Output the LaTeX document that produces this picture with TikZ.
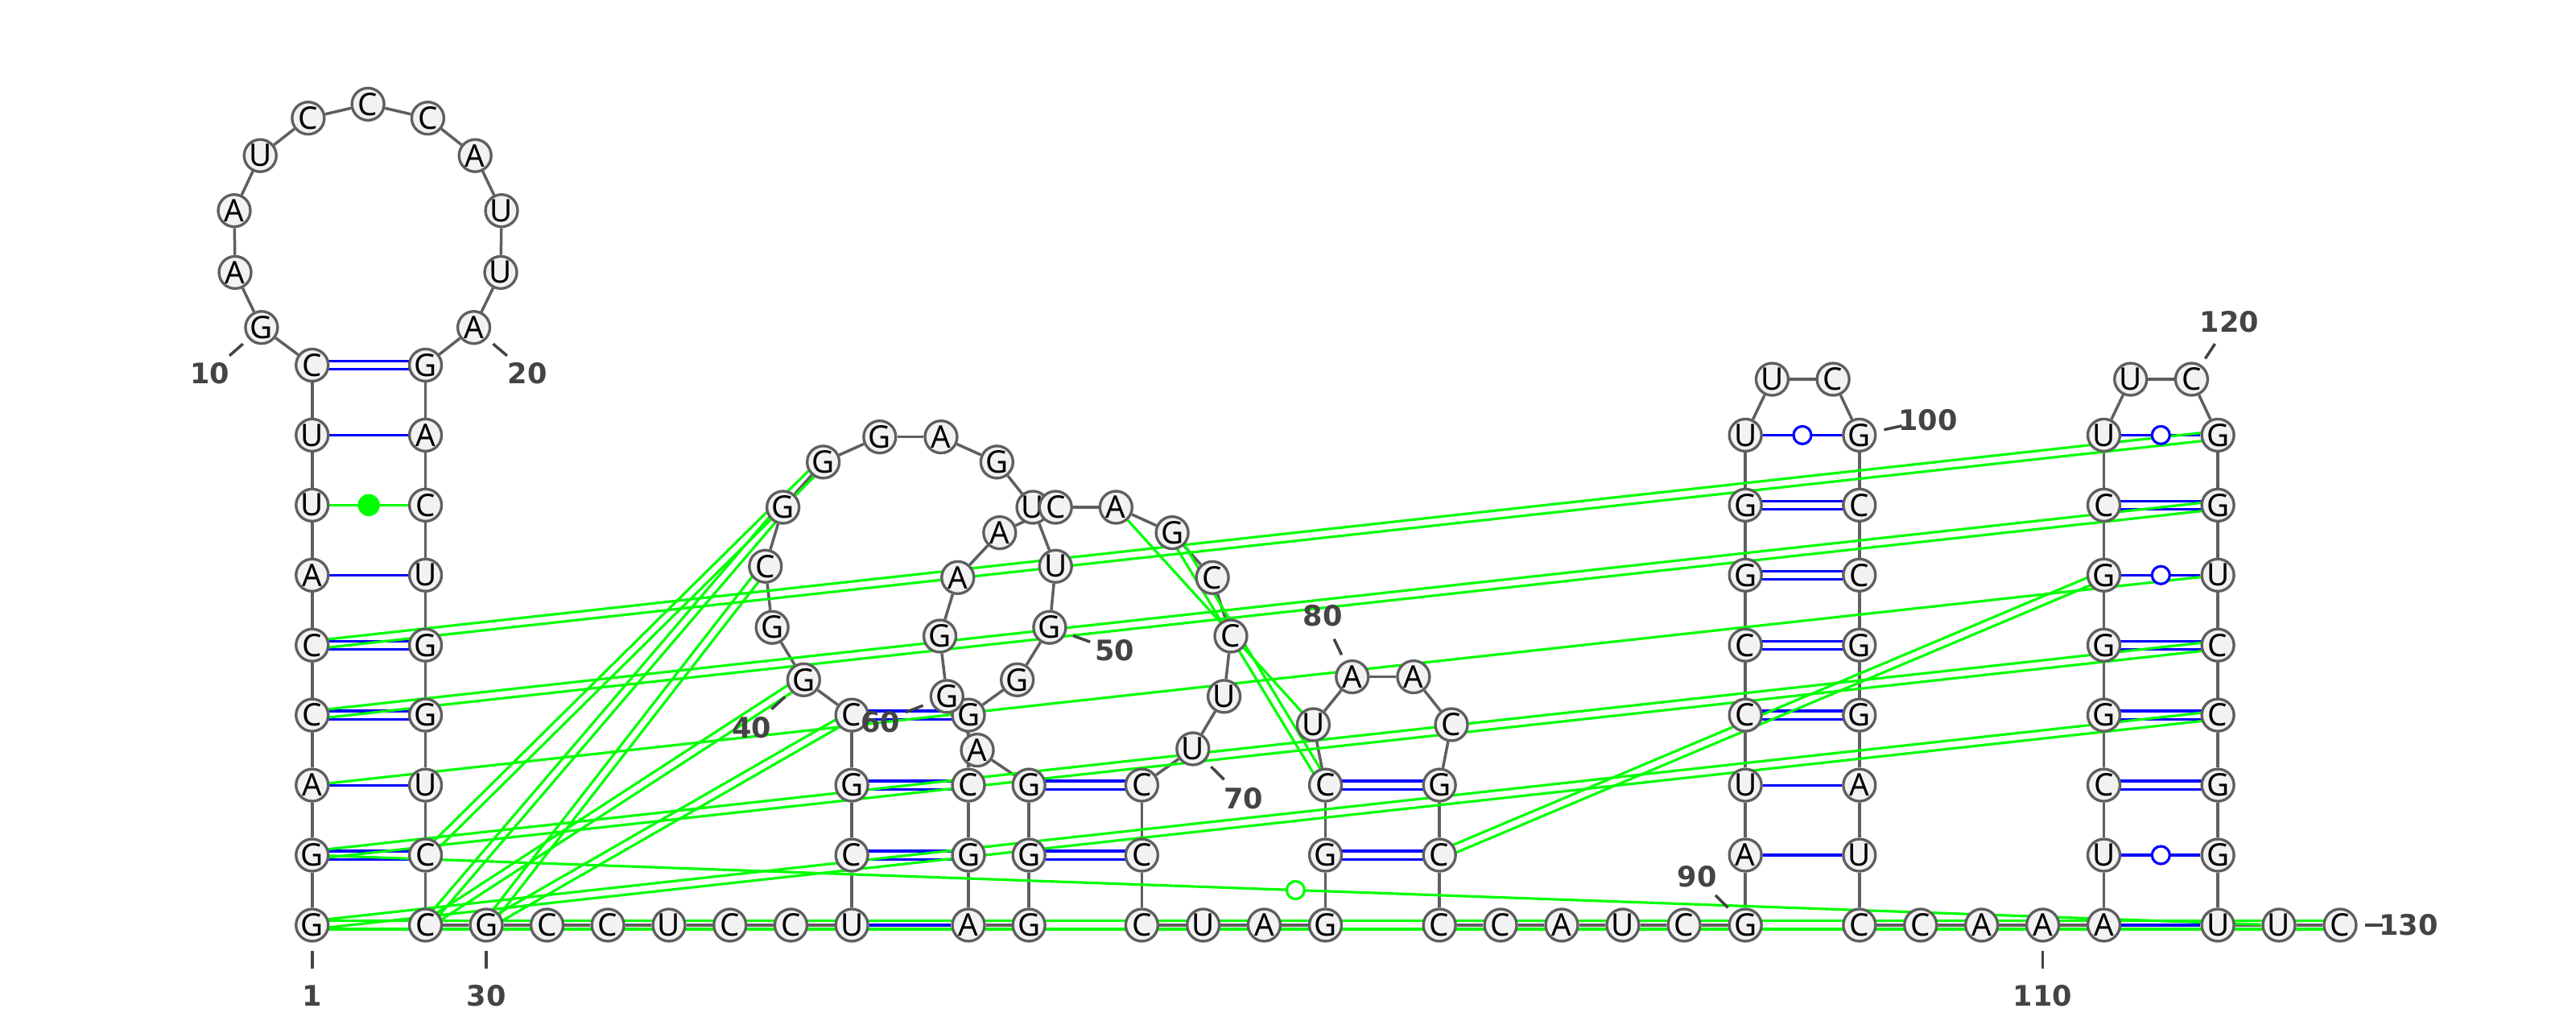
\documentclass[tikz,border=0pt]{standalone}
\usepackage{fontspec}
\setmainfont{Noto Sans}
\newfontfamily\numfam{DejaVu Sans}
\usepackage{tikz}
\usetikzlibrary{calc}

\definecolor{nodegray}{RGB}{95,95,95}
\definecolor{nodefill}{RGB}{242,242,242}
\definecolor{numgray}{RGB}{68,68,68}
\definecolor{wcblue}{RGB}{0,0,255}
\definecolor{altgreen}{RGB}{0,255,0}

\pgfdeclarelayer{bonds}
\pgfsetlayers{bonds,main}

\newcommand\nucfont{\fontsize{11}{11}\selectfont}
\newcommand\numfont{\numfam\bfseries\fontsize{10}{10}\selectfont}
% two parallel strokes between two bases
\newcommand\dbl[3]{%
  \draw[#1] ($(n#2)!1.45pt!90:(n#3)$) -- ($(n#3)!1.45pt!-90:(n#2)$);
  \draw[#1] ($(n#2)!1.45pt!-90:(n#3)$) -- ($(n#3)!1.45pt!90:(n#2)$);}

\begin{document}
\begin{tikzpicture}[x=0.02041cm,y=-0.02041cm,
    nuc/.style={circle,draw=nodegray,fill=nodefill,line width=0.95pt,minimum size=0.4cm,inner sep=0pt,font=\nucfont},
    backbone/.style={nodegray,line width=1pt},
    wcpair/.style={wcblue,line width=0.9pt},
    altpair/.style={altgreen,line width=0.9pt},
    gucirc/.style={circle,draw=#1,fill=white,line width=0.9pt,minimum size=0.22cm,inner sep=0pt},
    gdot/.style={circle,fill=altgreen,minimum size=0.275cm,inner sep=0pt},
    numlab/.style={font=\numfont,text=numgray},
    numtick/.style={numgray,line width=1pt}]
\useasboundingbox (0,0) rectangle (1568,626.2);

% bases
\foreach \i/\b/\x/\y in {1/G/190/563, 2/G/190/520.4, 3/A/190/477.8, 4/C/190/435.2, 5/C/190/392.6,
    6/A/190/350, 7/U/190/307.4, 8/U/190/264.8, 9/C/190/222.2, 10/G/159.2/199.3,
    11/A/143.1/165.8, 12/A/142.6/128.2, 13/U/158.4/94.7, 14/C/187.6/71.9, 15/C/224/63.4,
    16/C/260.4/71.9, 17/A/289.2/94.7, 18/U/305.3/128.2, 19/U/304.8/165.8, 20/A/288.4/199.3,
    21/G/259/222.2, 22/A/259/264.8, 23/C/259/307.4, 24/U/259/350, 25/G/259/392.6,
    26/G/259/435.2, 27/U/259/477.8, 28/C/259/520.4, 29/C/259/563, 30/G/296/563,
    31/C/333/563, 32/C/370/563, 33/U/407.2/563, 34/C/444.3/563, 35/C/481.4/563,
    36/U/518.5/563, 37/C/518.5/520.4, 38/G/518.5/477.8, 39/C/518.5/435.2, 40/G/489.2/413.7,
    41/G/470/381.8, 42/C/465.9/344.6, 43/G/476.6/308.7, 44/G/501.1/281.2, 45/G/535.5/265.9,
    46/A/572.8/265.9, 47/G/606.8/281.2, 48/U/628.7/308.7, 49/U/642.5/344.6, 50/G/638.9/381.8,
    51/G/619.2/413.7, 52/G/589.5/435.2, 53/C/589.5/477.8, 54/G/589.5/520.4, 55/A/589.5/563,
    56/G/626.3/563, 57/G/626.3/520.4, 58/G/626.3/477.8, 59/A/594.9/456.5, 60/G/576.4/423.8,
    61/G/572.1/387.1, 62/A/583/351.5, 63/A/608.5/324.2, 64/C/642.5/308.7, 65/A/679.3/308.7,
    66/G/713.5/324.2, 67/C/738/351.5, 68/C/749.2/387.1, 69/U/745.1/423.8, 70/U/726.1/455.7,
    71/C/695/477.8, 72/C/695/520.4, 73/C/695/563, 74/U/732.4/563, 75/A/769.5/563,
    76/G/806.8/563, 77/G/806.8/520.4, 78/C/806.8/477.8, 79/U/799.4/441, 80/A/823.1/411.9,
    81/A/860.4/411.9, 82/C/883.5/441, 83/G/876.2/477.8, 84/C/876.2/520.4, 85/C/876.2/563,
    86/C/913.4/563, 87/A/950.6/563, 88/U/987.8/563, 89/C/1025.1/563, 90/G/1062.4/563,
    91/A/1062.4/520.4, 92/U/1062.4/477.8, 93/C/1062.4/435.2, 94/C/1062.4/392.6, 95/G/1062.4/350,
    96/G/1062.4/307.4, 97/U/1062.4/264.8, 98/U/1078.7/230.8, 99/C/1115.8/230.8, 100/G/1131.8/264.8,
    101/C/1131.8/307.4, 102/C/1131.8/350, 103/G/1131.8/392.6, 104/G/1131.8/435.2, 105/A/1131.8/477.8,
    106/U/1131.8/520.4, 107/C/1131.8/563, 108/C/1169/563, 109/A/1206.2/563, 110/A/1243.4/563,
    111/A/1280.6/563, 112/U/1280.6/520.4, 113/C/1280.6/477.8, 114/G/1280.6/435.2, 115/G/1280.6/392.6,
    116/G/1280.6/350, 117/C/1280.6/307.4, 118/U/1280.6/264.8, 119/U/1296.9/230.8, 120/C/1334/230.8,
    121/G/1350/264.8, 122/G/1350/307.4, 123/U/1350/350, 124/C/1350/392.6, 125/C/1350/435.2,
    126/G/1350/477.8, 127/G/1350/520.4, 128/U/1350/563, 129/U/1387.2/563, 130/C/1424.4/563}
  \node[nuc] (n\i) at (\x,\y) {\b};

\begin{pgfonlayer}{bonds}
  \foreach \i in {1,...,129}{
    \pgfmathtruncatemacro\j{\i+1}
    \draw[backbone] (n\i) -- (n\j);
  }
  % secondary structure
  \foreach \a/\b in {2/28,4/26,5/25,9/21,37/54,38/53,39/52,57/72,58/71,77/84,78/83,
      93/104,94/103,95/102,96/101,113/126,114/125,115/124,117/122}{\dbl{wcpair}{\a}{\b}}
  \foreach \a/\b in {3/27,6/24,8/22,36/55,91/106,92/105,111/128}
    \draw[wcpair] (n\a) -- (n\b);
  \foreach \a/\b in {97/100,112/127,116/123,118/121}
    \draw[wcpair] (n\a) -- (n\b);
  % other pairs
  \foreach \a/\b in {1/125,2/124,4/122,5/121,1/130,28/44,29/43,30/42,29/40,30/39,66/78,84/116}{\dbl{altpair}{\a}{\b}}
  \foreach \a/\b in {3/123,65/79,2/129,7/23}
    \draw[altpair] (n\a) -- (n\b);
\end{pgfonlayer}

\foreach \a/\b in {97/100,112/127,116/123,118/121}
  \node[gucirc=wcblue] (w\a) at ($(n\a)!.5!(n\b)$) {};
\node[gucirc=altgreen] (w2) at ($(n2)!.5!(n129)$) {};
\node[gdot] (d7) at ($(n7)!.5!(n23)$) {};

% numbering
\foreach \k/\lx/\ly in {1/190/606, 10/127.7/227, 20/321/227, 30/296/606, 40/457.6/442.6,
    50/678.6/396, 60/536/439.3, 70/756.8/485.9, 80/805.2/374.8, 90/1033/533.6,
    100/1173.5/255.7, 110/1243.4/606, 120/1357/196, 130/1466/563}{
  \node[numlab] (l\k) at (\lx,\ly) {\k};
  \draw[numtick] ($(n\k)!0.36!(l\k)$) -- ($(n\k)!0.62!(l\k)$);
}
\end{tikzpicture}
\end{document}
